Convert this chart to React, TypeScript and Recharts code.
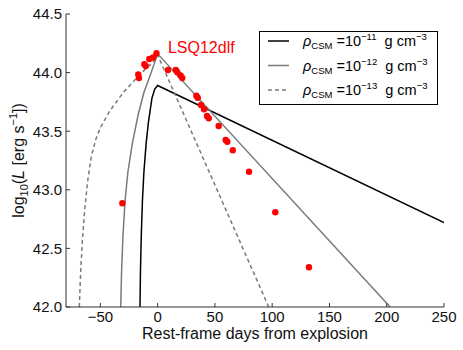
import React from 'react';
import { ComposedChart, Line, Scatter, XAxis, YAxis, ReferenceDot, Label } from 'recharts';

// ---- tick labels ----
const xTicks = [-50, 0, 50, 100, 150, 200, 250];
const yTicks = [42.0, 42.5, 43.0, 43.5, 44.0, 44.5];

// ---- observed LSQ12dlf points ----
const obsDays = [-30.8, -16.9, -16.3, -11.6, -10.4, -7.3, -4.0, -1.0, 9.0, 15.8, 17.2, 20.0, 21.5, 33.8, 35.0, 37.9, 40.5, 43.1, 44.6, 53.3, 59.4, 60.8, 65.6, 79.8, 102.7, 132.1];
const obsLogL = [42.885, 43.984, 43.954, 44.071, 44.056, 44.116, 44.129, 44.165, 44.022, 44.022, 44.003, 43.975, 43.954, 43.803, 43.786, 43.724, 43.687, 43.63, 43.61, 43.544, 43.425, 43.41, 43.337, 43.154, 42.808, 42.339];

// ---- model: rho = 1e-11 ----
const rho11Days = [-15.4, -15.0, -14.3, -13.3, -12.0, -10.0, -8.0, -5.0, -2.5, 0, 250];
const rho11LogL = [42.0, 42.3, 42.6, 42.9, 43.15, 43.4, 43.58, 43.78, 43.86, 43.89, 42.72];

// ---- model: rho = 1e-12 ----
const rho12Days = [-32.2, -31.5, -30.3, -28.5, -26.0, -22.0, -17.0, -12.0, -6.0, 0, 203];
const rho12LogL = [42.0, 42.3, 42.6, 42.9, 43.15, 43.4, 43.64, 43.83, 43.99, 44.16, 42.0];

// ---- model: rho = 1e-13 ----
const rho13Days = [-68.4, -67.2, -65.5, -63.5, -61.0, -58.0, -54.0, -50.0, -42.0, -30.0, -15.0, -4.0, 0, 97];
const rho13LogL = [42.0, 42.3, 42.6, 42.85, 43.08, 43.28, 43.43, 43.53, 43.67, 43.83, 43.99, 44.09, 44.15, 42.0];

const legendExponents = ['11', '12', '13'];
const annotation = 'LSQ12dlf';

const zip = (days: number[], vals: number[]) => days.map((day, i) => ({ day, logL: vals[i] }));
const obs = zip(obsDays, obsLogL);
const m11 = zip(rho11Days, rho11LogL);
const m12 = zip(rho12Days, rho12LogL);
const m13 = zip(rho13Days, rho13LogL);

const FRAME = '#333';
const TXT = '#111';
const GRAY = '#7a7a7a';
const FONT = '"Liberation Sans", Arial, sans-serif';

const fmtX = (v: number) => (v < 0 ? '\u2212' + Math.abs(v) : String(v));

const BottomTick = (p: any) => (
  <g>
    <line x1={p.x} x2={p.x} y1={p.y} y2={p.y - 4} stroke={FRAME} />
    <text x={p.x} y={p.y + 15} textAnchor="middle" fontSize={15} fill={TXT} fontFamily={FONT}>
      {fmtX(p.payload.value)}
    </text>
  </g>
);
const TopTick = (p: any) => (
  <line x1={p.x} x2={p.x} y1={p.y} y2={p.y + 4} stroke={FRAME} />
);
const LeftTick = (p: any) => (
  <g>
    <line x1={p.x} x2={p.x + 4} y1={p.y} y2={p.y} stroke={FRAME} />
    <text x={p.x - 4} y={p.y} dy="0.36em" textAnchor="end" fontSize={15} fill={TXT} fontFamily={FONT}>
      {Number(p.payload.value).toFixed(1)}
    </text>
  </g>
);
const RightTick = (p: any) => (
  <line x1={p.x} x2={p.x - 4} y1={p.y} y2={p.y} stroke={FRAME} />
);

const YLabel = (p: any) => {
  const vb = p.viewBox;
  const cx = vb.x + 24;
  const cy = vb.y + vb.height / 2;
  return (
    <text x={cx} y={cy} transform={`rotate(-90, ${cx}, ${cy})`} textAnchor="middle" fontSize={16} fill={TXT} fontFamily={FONT} style={{ whiteSpace: 'pre' }}>
      <tspan>log</tspan>
      <tspan fontSize={11} dy={4}>10</tspan>
      <tspan dy={-4}>(</tspan>
      <tspan fontStyle="italic">L</tspan>
      <tspan> [erg s</tspan>
      <tspan fontSize={11} dy={-7}>{'\u22121'}</tspan>
      <tspan dy={7}>])</tspan>
    </text>
  );
};

const XLabel = (p: any) => {
  const vb = p.viewBox;
  return (
    <text x={vb.x + vb.width / 2} y={vb.y + 32} textAnchor="middle" fontSize={16} fill={TXT} fontFamily={FONT}>
      Rest-frame days from explosion
    </text>
  );
};

const legendStyles = [
  { color: '#000', dash: undefined },
  { color: GRAY, dash: undefined },
  { color: GRAY, dash: '4 3' },
];

const LegendBox = () => (
  <svg width={179} height={74} style={{ display: 'block', overflow: 'visible' }}>
    <rect x={0.5} y={0.5} width={178} height={73} fill="#fff" stroke="#000" />
    {legendExponents.map((e, i) => {
      const y = 10 + i * 24.5;
      const s = legendStyles[i];
      return (
        <g key={e}>
          <line x1={9} x2={30} y1={y} y2={y} stroke={s.color} strokeWidth={1.5} strokeDasharray={s.dash} />
          <text x={44} y={y + 5} fontSize={14.5} fill="#000" fontFamily={FONT} style={{ whiteSpace: 'pre' }}>
            <tspan fontStyle="italic">{'\u03c1'}</tspan>
            <tspan fontSize={9.5} dy={3}>CSM</tspan>
            <tspan dy={-3}>{' =10'}</tspan>
            <tspan fontSize={9.5} dy={-6}>{'\u2212' + e}</tspan>
            <tspan dy={6}>{'  g cm'}</tspan>
            <tspan fontSize={9.5} dy={-6}>{'\u22123'}</tspan>
          </text>
        </g>
      );
    })}
  </svg>
);

export default function App() {
  return (
    <div style={{ position: 'absolute', left: 0, top: 0, width: 463, height: 350, background: '#fff', fontFamily: FONT }}>
      <ComposedChart width={463} height={350} margin={{ top: 14, right: 19, bottom: 0, left: 0 }}>
        <XAxis
          xAxisId={0}
          type="number"
          dataKey="day"
          domain={[-80, 250]}
          ticks={xTicks}
          interval={0}
          allowDataOverflow
          height={43}
          tickSize={0}
          tickMargin={0}
          tickLine={false}
          axisLine={{ stroke: FRAME }}
          tick={<BottomTick />}
        >
          <Label content={<XLabel />} />
        </XAxis>
        <XAxis
          xAxisId="top"
          orientation="top"
          type="number"
          domain={[-80, 250]}
          ticks={xTicks}
          interval={0}
          allowDataOverflow
          height={0}
          tickSize={0}
          tickMargin={0}
          tickLine={false}
          axisLine={{ stroke: FRAME }}
          tick={<TopTick />}
        />
        <YAxis
          yAxisId={0}
          type="number"
          dataKey="logL"
          domain={[42, 44.5]}
          ticks={yTicks}
          interval={0}
          allowDataOverflow
          width={66}
          tickSize={0}
          tickMargin={0}
          tickLine={false}
          axisLine={{ stroke: FRAME }}
          tick={<LeftTick />}
        >
          <Label content={<YLabel />} />
        </YAxis>
        <YAxis
          yAxisId="right"
          orientation="right"
          type="number"
          domain={[42, 44.5]}
          ticks={yTicks}
          interval={0}
          allowDataOverflow
          width={0}
          tickSize={0}
          tickMargin={0}
          tickLine={false}
          axisLine={{ stroke: FRAME }}
          tick={<RightTick />}
        />
        <Line data={m11} dataKey="logL" type="linear" stroke="#000" strokeWidth={1.5} dot={false} activeDot={false} isAnimationActive={false} />
        <Line data={m12} dataKey="logL" type="linear" stroke={GRAY} strokeWidth={1.5} dot={false} activeDot={false} isAnimationActive={false} />
        <Line data={m13} dataKey="logL" type="linear" stroke={GRAY} strokeWidth={1.5} strokeDasharray="4 3" dot={false} activeDot={false} isAnimationActive={false} />
        <Scatter
          data={obs}
          dataKey="logL"
          fill="#ff0000"
          isAnimationActive={false}
          shape={(p: any) => <circle cx={p.cx} cy={p.cy} r={3.2} fill="#ff0000" />}
        />
        <ReferenceDot
          x={9}
          y={44.218}
          r={0}
          fill="none"
          stroke="none"
          label={{ value: annotation, position: 'right', offset: 0, fill: '#ff0000', fontSize: 16, fontFamily: FONT }}
        />
      </ComposedChart>
      <div style={{ position: 'absolute', left: 259, top: 31, width: 179, height: 74 }}>
        <LegendBox />
      </div>
    </div>
  );
}
